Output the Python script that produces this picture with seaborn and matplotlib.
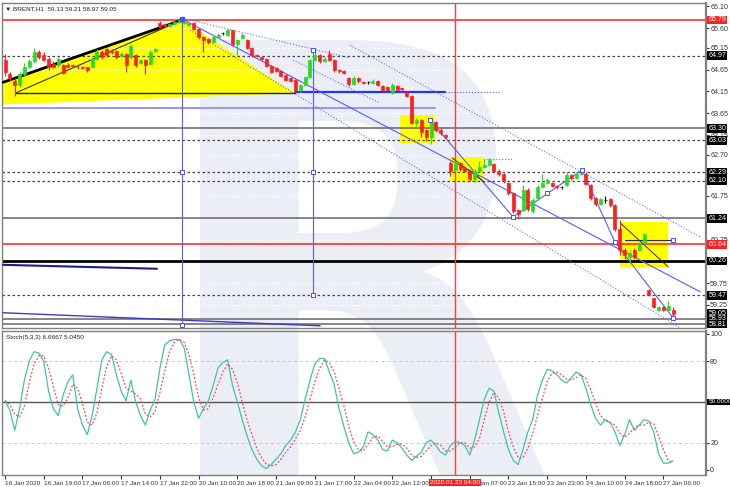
import matplotlib
matplotlib.use("Agg")
import matplotlib.pyplot as plt
import matplotlib.transforms as mtransforms
from matplotlib.textpath import TextPath
from matplotlib.patches import PathPatch, Polygon, Rectangle
from matplotlib.font_manager import FontProperties
import seaborn as sns
import pandas as pd

# BRENT H1 candles
opens = [64.87, 64.55, 64.40, 64.30, 64.55, 64.72, 64.85, 65.05, 64.98, 64.90,
         64.78, 64.75, 64.75, 64.76, 64.76, 64.72, 64.70, 64.70, 64.70, 64.90,
         65.05, 65.12, 65.08, 65.07, 64.97, 65.00, 64.95, 64.98, 64.80, 64.87,
         64.78, 65.08, 65.72, 65.70, 65.66, 65.70, 65.74, 65.72, 65.68, 65.72,
         65.58, 65.40, 65.36, 65.28, 65.40, 65.48, 65.45, 65.55, 65.25, 65.38,
         65.33, 65.15, 64.98, 64.94, 64.90, 64.74, 64.68, 64.62, 64.53, 64.45,
         64.41, 64.18, 64.30, 64.48, 64.87, 64.98, 64.85, 65.00, 64.87, 64.64,
         64.62, 64.45, 64.32, 64.46, 64.36, 64.36, 64.35, 64.38, 64.28, 64.25,
         64.12, 64.28, 64.22, 64.13, 64.05, 63.42, 63.49, 63.26, 63.10, 63.45,
         63.26, 63.15, 62.50, 62.35, 62.50, 62.40, 62.33, 62.14, 62.33, 62.42,
         62.46, 62.48, 62.33, 62.26, 62.05, 61.82, 61.43, 61.43, 61.89, 61.40,
         61.70, 61.96, 62.05, 62.05, 61.98, 61.95, 62.00, 62.23, 62.16, 62.26,
         62.26, 62.00, 61.70, 61.57, 61.66, 61.68, 61.54, 61.00, 60.51, 60.36,
         60.51, 60.51, 60.67, 59.59, 59.40, 59.14, 59.20, 59.14, 59.13]
closes = [64.60, 64.45, 64.30, 64.55, 64.70, 64.85, 65.05, 64.95, 64.88, 64.70,
          64.72, 64.90, 64.58, 64.72, 64.73, 64.70, 64.69, 64.64, 64.90, 65.05,
          64.93, 64.98, 65.05, 64.93, 65.00, 64.76, 65.20, 64.76, 64.87, 64.76,
          65.05, 65.12, 65.64, 65.66, 65.70, 65.75, 65.78, 65.75, 65.72, 65.58,
          65.40, 65.33, 65.28, 65.40, 65.45, 65.48, 65.55, 65.25, 65.32, 65.45,
          65.15, 64.98, 64.96, 64.90, 64.74, 64.60, 64.63, 64.50, 64.42, 64.40,
          64.18, 64.30, 64.48, 64.87, 64.98, 64.85, 64.90, 64.87, 64.64, 64.62,
          64.58, 64.32, 64.46, 64.38, 64.35, 64.36, 64.40, 64.30, 64.18, 64.18,
          64.30, 64.18, 64.20, 64.05, 63.42, 63.49, 63.22, 63.10, 63.45, 63.26,
          63.19, 63.10, 62.32, 62.48, 62.38, 62.33, 62.14, 62.33, 62.42, 62.46,
          62.58, 62.33, 62.26, 62.10, 61.82, 61.40, 61.33, 61.89, 61.45, 61.66,
          61.96, 62.05, 62.12, 61.98, 61.95, 61.95, 62.23, 62.16, 62.26, 62.30,
          62.03, 61.70, 61.57, 61.68, 61.66, 61.54, 61.00, 60.51, 60.40, 60.45,
          60.36, 60.67, 60.88, 59.48, 59.20, 59.20, 59.14, 59.22, 59.05]
highs = [65.00, 64.60, 64.45, 64.60, 64.80, 64.90, 65.15, 65.10, 65.05, 64.95,
         64.85, 64.95, 64.78, 64.80, 64.78, 64.75, 64.74, 64.72, 64.95, 65.12,
         65.10, 65.15, 65.12, 65.10, 65.05, 65.03, 65.25, 65.00, 64.90, 64.90,
         65.10, 65.15, 65.76, 65.73, 65.73, 65.77, 65.79, 65.78, 65.74, 65.75,
         65.60, 65.42, 65.38, 65.42, 65.48, 65.52, 65.58, 65.57, 65.35, 65.50,
         65.35, 65.17, 65.00, 64.96, 64.92, 64.76, 64.72, 64.65, 64.56, 64.47,
         64.43, 64.33, 64.50, 64.90, 65.11, 65.00, 64.93, 65.10, 64.89, 64.67,
         64.65, 64.48, 64.50, 64.48, 64.40, 64.40, 64.43, 64.42, 64.30, 64.28,
         64.35, 64.30, 64.24, 64.15, 64.07, 63.55, 63.52, 63.28, 63.52, 63.48,
         63.30, 63.18, 62.55, 62.55, 62.53, 62.42, 62.36, 62.36, 62.55, 62.60,
         62.62, 62.50, 62.36, 62.28, 62.07, 61.85, 61.46, 62.00, 61.93, 61.70,
         62.00, 62.25, 62.16, 62.08, 62.00, 61.98, 62.30, 62.26, 62.30, 62.35,
         62.30, 62.02, 61.72, 61.70, 61.76, 61.70, 61.56, 61.20, 60.55, 60.50,
         60.55, 60.70, 60.90, 59.62, 59.42, 59.22, 59.22, 59.35, 59.21]
lows = [64.50, 64.40, 64.05, 64.25, 64.50, 64.68, 64.80, 64.90, 64.85, 64.65,
        64.68, 64.72, 64.55, 64.70, 64.70, 64.66, 64.66, 64.60, 64.68, 64.88,
        64.90, 64.95, 65.00, 64.90, 64.95, 64.60, 64.90, 64.72, 64.78, 64.55,
        64.76, 65.05, 65.60, 65.62, 65.64, 65.68, 65.72, 65.70, 65.66, 65.55,
        65.36, 65.05, 65.24, 65.26, 65.38, 65.44, 65.43, 65.20, 64.98, 65.35,
        65.12, 64.95, 64.93, 64.87, 64.70, 64.57, 64.60, 64.47, 64.38, 64.36,
        64.12, 64.14, 64.27, 64.45, 64.84, 64.80, 64.82, 64.84, 64.60, 64.58,
        64.55, 64.28, 64.30, 64.35, 64.32, 64.33, 64.32, 64.27, 64.15, 64.15,
        64.10, 64.15, 64.15, 64.02, 63.40, 63.35, 63.10, 63.02, 62.95, 63.22,
        63.15, 63.06, 62.20, 62.30, 62.33, 62.30, 62.10, 62.08, 62.30, 62.40,
        62.44, 62.30, 62.22, 62.05, 61.78, 61.35, 61.22, 61.40, 61.40, 61.36,
        61.66, 61.93, 62.02, 61.95, 61.92, 61.92, 61.98, 62.12, 62.13, 62.23,
        62.00, 61.66, 61.52, 61.55, 61.58, 61.50, 60.95, 60.40, 60.30, 60.22,
        60.30, 60.48, 60.64, 59.45, 59.17, 59.12, 59.10, 59.12, 58.97]

# Stoch(5,3,3)
stoch_k = [51, 44, 29, 45, 66, 80, 87, 86, 80, 58,
           45, 40, 55, 65, 70, 45, 33, 26, 40, 60,
           81, 87, 85, 70, 58, 51, 66, 50, 40, 33,
           44, 52, 75, 92, 95, 96, 96, 90, 70, 50,
           38, 45, 51, 62, 75, 79, 81, 62, 50, 37,
           25, 15, 8, 3, 1, 4, 8, 12, 18, 22,
           28, 37, 52, 66, 78, 82, 82, 72, 63, 45,
           32, 20, 12, 13, 17, 28, 26, 22, 15, 14,
           22, 20, 16, 11, 7, 10, 13, 20, 22, 18,
           13, 11, 18, 21, 20, 18, 11, 22, 37, 52,
           60, 58, 42, 28, 15, 7, 4, 15, 28, 37,
           55, 66, 74, 73, 70, 66, 64, 68, 72, 70,
           60, 48, 38, 33, 37, 35, 28, 18, 26, 37,
           29, 33, 37, 36, 28, 12, 5, 5, 6.6667]
stoch_d = [51, 48, 41, 39, 47, 64, 78, 84, 84, 75,
           61, 48, 47, 53, 63, 60, 49, 35, 33, 42,
           60, 76, 84, 81, 71, 60, 58, 56, 52, 41,
           39, 43, 57, 73, 87, 94, 96, 94, 85, 70,
           53, 44, 45, 53, 63, 72, 78, 74, 64, 50,
           37, 26, 16, 9, 4, 3, 4, 8, 13, 17,
           23, 29, 39, 52, 65, 75, 81, 79, 72, 60,
           47, 32, 21, 15, 14, 19, 24, 25, 21, 17,
           17, 19, 19, 16, 11, 9, 10, 14, 18, 20,
           18, 14, 14, 17, 20, 20, 16, 17, 23, 37,
           50, 57, 53, 43, 28, 17, 9, 9, 16, 27,
           40, 53, 65, 71, 72, 70, 67, 66, 68, 70,
           67, 59, 49, 40, 36, 35, 33, 27, 24, 27,
           31, 33, 33, 35, 34, 25, 15, 7, 5.045]

tick_bars = [0, 8, 16, 24, 32, 40, 48, 56, 64, 72, 80, 88, 96, 104, 112, 120, 128, 136]
tick_labels = ["16 Jan 2020", "16 Jan 19:00", "17 Jan 06:00", "17 Jan 14:00", "17 Jan 22:00",
               "20 Jan 10:00", "20 Jan 18:00", "21 Jan 09:00", "21 Jan 17:00", "22 Jan 04:00",
               "22 Jan 12:00", "22 Jan 20:00", "23 Jan 07:00", "23 Jan 15:00", "23 Jan 23:00",
               "24 Jan 10:00", "24 Jan 18:00", "27 Jan 06:00"]
price_ticks = [66.10, 65.60, 65.15, 64.65, 64.15, 63.65, 63.15, 62.70, 61.75, 60.75, 59.75, 59.25]
stoch_ticks = [100, 80, 20, 0]

dotted_levels = [64.97, 63.03, 62.29, 62.10, 59.47]
gray_levels = [63.30, 61.24, 58.93, 58.81]
red_levels = [65.79, 60.64]
black_levels = [60.26]
boxed_levels = [64.97, 63.30, 63.03, 62.29, 62.10, 61.24, 60.26, 59.47, 59.05, 58.93, 58.81]

# drawn objects (bar, price)
big_zone = [(-0.4, 64.36), (36.6, 65.79), (59.9, 64.11), (-0.4, 63.85)]
zones = [(81.6, 88.8, 62.97, 63.61), (91.9, 99.0, 62.07, 62.64), (127.1, 137.0, 60.12, 61.15)]
trend_lines = [
    ((-0.4, 64.36), (36.6, 65.79), "black", 2.0, "-"),
    ((2.1, 64.11), (36.6, 65.79), "#333333", 0.8, "-"),
    ((2.1, 64.11), (59.9, 64.11), "#222222", 1.0, "-"),
    ((59.9, 64.14), (90.9, 64.14), "#2233ff", 1.6, "-"),
    ((90.9, 64.14), (102.3, 64.14), "#5060ff", 0.8, ":"),
    ((-0.4, 63.77), (88.8, 63.77), "#8c8cff", 1.3, "-"),
    ((-0.4, 60.17), (31.4, 60.08), "#1a1a9a", 1.5, "-"),
    ((-0.4, 59.07), (65.1, 58.77), "#3a3ad0", 1.0, "-"),
    ((36.6, 65.81), (143.6, 59.55), "#5a5aff", 0.8, "-"),
    ((87.8, 63.49), (104.96, 61.27), "#5a5aff", 0.8, "-"),
    ((104.96, 61.27), (119.2, 62.35), "#5a5aff", 0.8, "-"),
    ((119.2, 62.35), (126.0, 60.69), "#5a5aff", 0.8, "-"),
    ((126.0, 60.69), (138.0, 58.95), "#5a5aff", 0.8, "-"),
    ((128.1, 60.74), (138.0, 60.74), "#2a2a6a", 0.8, "-"),
    ((36.6, 65.79), (36.6, 58.79), "#5a5aff", 0.8, "-"),
    ((63.6, 65.10), (63.6, 59.48), "#5a5aff", 0.8, "-"),
    ((38.2, 65.79), (71.3, 64.92), "#6a6aff", 0.8, ":"),
    ((71.3, 65.21), (143.6, 60.81), "#6a6aff", 0.8, ":"),
    ((38.2, 65.56), (139.5, 58.72), "#6a6aff", 0.8, ":"),
    ((59.5, 64.87), (77.5, 63.88), "#6a6aff", 0.8, ":"),
    ((99.0, 62.60), (104.96, 62.60), "#6a6aff", 0.8, ":"),
    ((92.4, 62.62), (99.0, 62.07), "#333333", 0.7, "-"),
    ((127.1, 61.13), (137.0, 60.12), "#333333", 0.7, "-"),
]
swing_points = [(63.6, 65.10), (63.6, 62.30), (63.6, 59.48), (36.6, 62.30), (36.6, 58.79),
                (87.8, 63.49), (104.96, 61.27), (112.0, 61.82), (119.2, 62.35), (126.0, 60.69),
                (138.0, 60.74), (138.0, 58.95)]
cursor_bar = 93

sns.set_style("white")
plt.rcParams["font.family"] = ["Liberation Sans", "DejaVu Sans"]

fig = plt.figure(figsize=(7.3, 4.87), dpi=100)
fig.patch.set_facecolor("white")
W, H = 730.0, 487.0
ax1 = fig.add_axes([2 / W, 1 - 328 / H, 704 / W, 325 / H])
ax2 = fig.add_axes([2 / W, 1 - 475 / H, 704 / W, 144 / H])
for ax in (ax1, ax2):
    ax.set_facecolor("none")
    ax.set_xlim(-0.62, 144.8)
    for s in ax.spines.values():
        s.set_color("#808080")
        s.set_linewidth(1.0)
    ax.spines["right"].set_linewidth(1.6)

# watermark logo
tp = TextPath((0, 0), "R", size=1, prop=FontProperties(family="DejaVu Sans", weight="bold"))
ext = tp.get_extents()
tr = (mtransforms.Affine2D().translate(-ext.x0, -ext.y0)
      .scale(345 / W / ext.width, 435 / H / ext.height)
      .translate(200 / W, 12 / H) + fig.transFigure)
fig.add_artist(PathPatch(tp, transform=tr, fc="#ebeef4", ec="none", zorder=0))

# main panel
ax1.set_ylim(58.72, 66.18)
ax1.add_patch(Polygon(big_zone, closed=True, fc="#ffff00", ec="none", zorder=1))
for x0, x1, y0, y1 in zones:
    ax1.add_patch(Rectangle((x0, y0), x1 - x0, y1 - y0, fc="#ffff00", ec="none", zorder=1))
for p in price_ticks:
    ax1.axhline(p, color="white", lw=0.6, ls=(0, (3, 3)), zorder=1.5)

for v in dotted_levels:
    ax1.axhline(v, color="#444444", lw=0.9, ls=(0, (2, 2)), zorder=2)
for v in gray_levels:
    ax1.axhline(v, color="#666666", lw=1.1, zorder=2)
for v in red_levels:
    ax1.axhline(v, color="#ff3030", lw=1.2, zorder=2)
for v in black_levels:
    ax1.axhline(v, color="black", lw=2.0, zorder=2)

for (a, b, c, lw, ls) in trend_lines:
    ax1.plot([a[0], b[0]], [a[1], b[1]], color=c, lw=lw, ls=ls, zorder=3)
ax1.plot([p[0] for p in swing_points], [p[1] for p in swing_points], "s", ms=3,
         mfc="white", mec="#4a4aff", mew=0.7, zorder=6)
ax1.plot([36.6], [65.81], "s", ms=3, color="#4a4aff", zorder=6)

candles = pd.DataFrame({"open": opens, "close": closes, "high": highs, "low": lows})
candles["bar"] = range(len(candles))
colors = ["black" if o == c else ("#22dd22" if c > o else "#ff1f1f")
          for o, c in zip(candles["open"], candles["close"])]
ax1.vlines(candles["bar"], candles["low"], candles["high"], colors=colors, lw=0.8, zorder=4)
ax1.bar(candles["bar"], (candles["close"] - candles["open"]).abs(),
        bottom=candles[["open", "close"]].min(axis=1), width=0.62,
        color=colors, edgecolor=colors, linewidth=0.5, zorder=5)

ax1.axvline(cursor_bar, color="#ff4040", lw=1.0, zorder=2.5)
ax1.set_xticks([])
ax1.yaxis.tick_right()
ax1.set_yticks(price_ticks)
ax1.set_yticklabels([f"{p:.2f}" for p in price_ticks])
ax1.tick_params(axis="y", length=2, pad=1, labelsize=5.1, colors="#333333", right=True)


def level_box(ax, text, y, fc, size=5.1):
    ax.annotate(text, xy=(1, y), xycoords=("axes fraction", "data"), xytext=(1.6, 0),
                textcoords="offset points", ha="left", va="center", fontsize=size, color="white",
                bbox=dict(boxstyle="square,pad=0.12", fc=fc, ec="none"), annotation_clip=False)


for v in boxed_levels:
    level_box(ax1, f"{v:.2f}", v, "black")
for v in red_levels:
    level_box(ax1, f"{v:.2f}", v, "#ff2020")
ax1.text(0.004, 0.99, "\u25bc BRENT,H1  59.13 59.21 58.97 59.05", transform=ax1.transAxes,
         ha="left", va="top", fontsize=4.6, color="#222222", zorder=7)

# stochastic panel
ax2.set_ylim(-3.7, 102.2)
stoch = pd.DataFrame({"bar": range(len(stoch_k)), "k": stoch_k, "d": stoch_d})
ax2.axhline(80, color="#c8c8c8", lw=0.7, ls=(0, (3, 3)))
ax2.axhline(20, color="#c8c8c8", lw=0.7, ls=(0, (3, 3)))
ax2.axhline(50, color="#555555", lw=1.0)
sns.lineplot(data=stoch, x="bar", y="k", ax=ax2, color="#3cc3b4", lw=0.9, zorder=4)
sns.lineplot(data=stoch, x="bar", y="d", ax=ax2, color="#ff4a4a", lw=0.9, ls=(0, (1.5, 1.5)), zorder=4)
ax2.axvline(cursor_bar, color="#ff4040", lw=1.0, zorder=2.5)
ax2.set_xlabel("")
ax2.set_ylabel("")
ax2.yaxis.tick_right()
ax2.set_yticks(stoch_ticks)
ax2.set_yticklabels([str(t) for t in stoch_ticks])
ax2.tick_params(axis="y", length=2, pad=1, labelsize=5.1, colors="#333333", right=True)
level_box(ax2, "50.0000", 50, "black", size=4.6)
ax2.set_xticks(tick_bars)
ax2.set_xticklabels(tick_labels, ha="left", fontsize=4.6, color="#333333")
ax2.tick_params(axis="x", length=3, pad=1.5, bottom=True, colors="#333333")
ax2.annotate("2020.01.23 04:00", xy=(cursor_bar, 0), xycoords=("data", "axes fraction"),
             xytext=(0, -5.6), textcoords="offset points", ha="center", va="center",
             fontsize=4.6, color="white", bbox=dict(boxstyle="square,pad=0.15", fc="#ff2020", ec="none"),
             annotation_clip=False, zorder=10)
ax2.text(0.006, 0.975, "Stoch(5,3,3) 6.6667 5.0450", transform=ax2.transAxes,
         ha="left", va="top", fontsize=4.6, color="#222222")

fig.savefig("out.png", dpi=100)
